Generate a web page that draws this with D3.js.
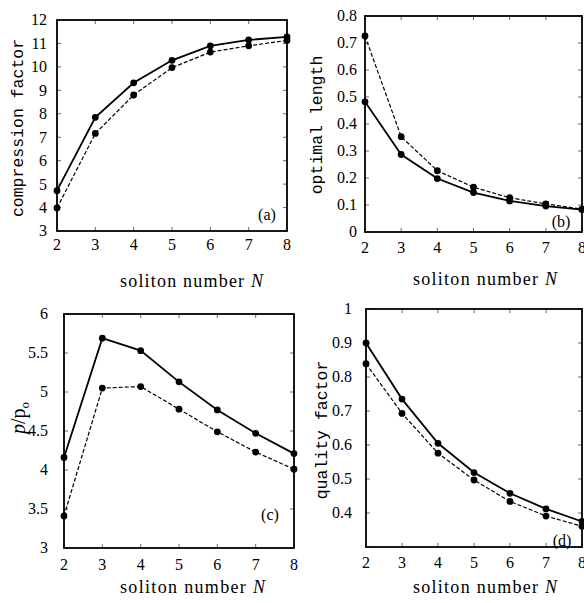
<!DOCTYPE html>
<html><head><meta charset="utf-8">
<script src="https://cdn.jsdelivr.net/npm/d3@7"></script>
<style>
html,body{margin:0;padding:0;background:#fff;}
svg{display:block;}
.serif{font-family:"Liberation Serif","DejaVu Serif","Times New Roman",serif;}
.mono{font-family:"Liberation Mono","DejaVu Sans Mono",monospace;}
</style></head>
<body>
<svg id="chart" width="584" height="603"></svg>
<script>
const solitonN = [2, 3, 4, 5, 6, 7, 8];
const xTicks = [2, 3, 4, 5, 6, 7, 8];

const compressionSolid  = [4.72, 7.85, 9.32, 10.28, 10.9, 11.15, 11.28];
const compressionDashed = [3.98, 7.16, 8.8, 9.97, 10.63, 10.9, 11.13];

const lengthSolid  = [0.482, 0.287, 0.198, 0.146, 0.115, 0.096, 0.083];
const lengthDashed = [0.726, 0.353, 0.227, 0.166, 0.127, 0.104, 0.085];

const powerSolid  = [4.16, 5.69, 5.53, 5.13, 4.77, 4.47, 4.21];
const powerDashed = [3.41, 5.05, 5.07, 4.78, 4.49, 4.23, 4.01];

const qualitySolid  = [0.90, 0.735, 0.605, 0.519, 0.458, 0.412, 0.375];
const qualityDashed = [0.839, 0.693, 0.576, 0.497, 0.434, 0.391, 0.361];

const ticksA = [3, 4, 5, 6, 7, 8, 9, 10, 11, 12];
const ticksB = [0, 0.1, 0.2, 0.3, 0.4, 0.5, 0.6, 0.7, 0.8];
const ticksC = [3, 3.5, 4, 4.5, 5, 5.5, 6];
const ticksD = [0.4, 0.5, 0.6, 0.7, 0.8, 0.9, 1];
const ticksDminor = [0.3];

const panels = [
  {id:"a", solid:compressionSolid, dashed:compressionDashed, yDomain:[3,12], yTicks:ticksA, fmt:d3.format("d"),
   box:{l:57,r:287,t:20,b:231}, yLabelRight:47, xLabelBase:250, titleX:{cx:191.5, base:287, len:143},
   yTitle:{text:"compression factor", x:22.5, y:128}, tag:{x:267, y:220}},
  {id:"b", solid:lengthSolid, dashed:lengthDashed, yDomain:[0,0.8], yTicks:ticksB, fmt:d => d===0?"0":d3.format(".1f")(d),
   box:{l:365,r:582,t:16,b:232}, yLabelRight:357, xLabelBase:253, titleX:{cx:485, base:285, len:144},
   yTitle:{text:"optimal length", x:322, y:125}, tag:{x:561, y:227}},
  {id:"c", solid:powerSolid, dashed:powerDashed, yDomain:[3,6], yTicks:ticksC, fmt:d => Number.isInteger(d)?String(d):d3.format(".1f")(d),
   box:{l:64,r:294,t:314,b:548}, yLabelRight:48, xLabelBase:570, titleX:{cx:192.5, base:593, len:145},
   yTitle:null, tag:{x:270, y:520}},
  {id:"d", solid:qualitySolid, dashed:qualityDashed, yDomain:[0.3,1], yTicks:ticksD, fmt:d => d===1?"1":d3.format(".1f")(d),
   box:{l:366,r:582,t:309,b:547}, yLabelRight:352, xLabelBase:568, titleX:{cx:485, base:593, len:144},
   yTitle:{text:"quality factor", x:327, y:430}, tag:{x:562, y:546}, minor:ticksDminor}
];

const svg = d3.select("#chart");

panels.forEach(p => {
  const x = d3.scaleLinear().domain([2, 8]).range([p.box.l, p.box.r]);
  const y = d3.scaleLinear().domain(p.yDomain).range([p.box.b, p.box.t]);
  const g = svg.append("g");

  // inward ticks
  const allY = p.yTicks.concat(p.minor || []);
  const tk = g.append("g").attr("stroke", "#444").attr("stroke-width", 0.8);
  xTicks.forEach(v => {
    tk.append("line").attr("x1", x(v)).attr("x2", x(v)).attr("y1", p.box.b).attr("y2", p.box.b - 4);
    tk.append("line").attr("x1", x(v)).attr("x2", x(v)).attr("y1", p.box.t).attr("y2", p.box.t + 4);
  });
  allY.forEach(v => {
    tk.append("line").attr("x1", p.box.l).attr("x2", p.box.l + 4).attr("y1", y(v)).attr("y2", y(v));
    tk.append("line").attr("x1", p.box.r).attr("x2", p.box.r - 4).attr("y1", y(v)).attr("y2", y(v));
  });

  // frame
  g.append("rect").attr("x", p.box.l).attr("y", p.box.t)
    .attr("width", p.box.r - p.box.l).attr("height", p.box.b - p.box.t)
    .attr("fill", "none").attr("stroke", "#000").attr("stroke-width", 1.8);

  // tick labels
  g.append("g").selectAll("text").data(xTicks).join("text").attr("class", "serif")
    .attr("x", d => x(d)).attr("y", p.xLabelBase).attr("text-anchor", "middle")
    .attr("font-size", 16).text(d => d);
  g.append("g").selectAll("text").data(p.yTicks).join("text").attr("class", "serif")
    .attr("x", p.yLabelRight).attr("y", d => y(d)).attr("dy", "0.34em").attr("text-anchor", "end")
    .attr("font-size", 16).text(d => p.fmt(d));

  // lines
  const line = d3.line().x((d, i) => x(solitonN[i])).y(d => y(d));
  g.append("path").datum(p.dashed).attr("d", line).attr("fill", "none")
    .attr("stroke", "#000").attr("stroke-width", 1.2).attr("stroke-dasharray", "4,2");
  g.append("path").datum(p.solid).attr("d", line).attr("fill", "none")
    .attr("stroke", "#000").attr("stroke-width", 1.8);
  [p.solid, p.dashed].forEach(ser => {
    g.append("g").selectAll("circle").data(ser).join("circle")
      .attr("cx", (d, i) => x(solitonN[i])).attr("cy", d => y(d)).attr("r", 3.4).attr("fill", "#000");
  });

  // x title
  const xt = g.append("text").attr("class", "serif").attr("x", p.titleX.cx).attr("y", p.titleX.base)
    .attr("text-anchor", "middle").attr("font-size", 18)
    .attr("textLength", p.titleX.len).attr("lengthAdjust", "spacing");
  xt.append("tspan").text("soliton number ");
  xt.append("tspan").attr("font-style", "italic").text("N");

  // y title
  if (p.yTitle) {
    g.append("text").attr("class", "mono").attr("transform", `translate(${p.yTitle.x},${p.yTitle.y}) rotate(-90)`)
      .attr("text-anchor", "middle").attr("font-size", 16.5)
      .text(p.yTitle.text);
  } else {
    const t = g.append("text").attr("class", "serif").attr("transform", `translate(25,418) rotate(-90)`)
      .attr("text-anchor", "middle").attr("font-size", 20);
    t.append("tspan").attr("font-style", "italic").text("p");
    t.append("tspan").text("/p");
    t.append("tspan").attr("font-size", 13).attr("dy", 4).text("o");
  }

  // panel tag
  g.append("text").attr("class", "serif").attr("x", p.tag.x).attr("y", p.tag.y).attr("text-anchor", "middle")
    .attr("font-size", 16).text(`(${p.id})`);
});
</script>
</body></html>
